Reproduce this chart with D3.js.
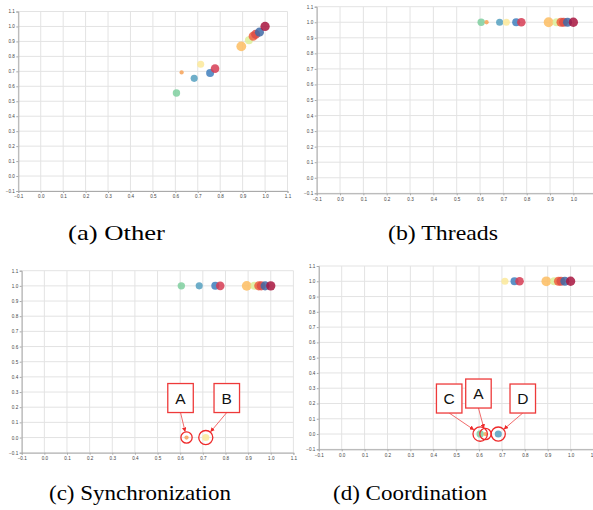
<!DOCTYPE html>
<html>
<head>
<meta charset="utf-8">
<script src="https://cdn.jsdelivr.net/npm/d3@7"></script>
<style>
  html, body { margin: 0; padding: 0; background: #fff; }
  svg { display: block; }
  .tick text { font-family: "Liberation Sans", Arial, sans-serif; }
</style>
</head>
<body>
<div id="fig"></div>
<script>
// similarity score of each item (x) and its value per category panel (y)
const xScore    = [0.605, 0.628, 0.684, 0.713, 0.755, 0.777, 0.894, 0.928, 0.947, 0.958, 0.975, 1.0];
const yOther    = [0.555, 0.693, 0.653, 0.747, 0.689, 0.718, 0.867, 0.907, 0.935, 0.947, 0.962, 1.0];
const yThreads  = [1, 1, 1, 1, 1, 1, 1, 1, 1, 1, 1, 1];
const ySync     = [1, 0, 1, 0, 1, 1, 1, 1, 1, 1, 1, 1];
const yCoord    = [0, 0, 0, 1, 1, 1, 1, 1, 1, 1, 1, 1];
const weights   = [12, 4, 11, 11, 14, 16, 21, 14, 18, 18, 18, 19];

const ticks = d3.range(-0.1, 1.1001, 0.1).map(v => +v.toFixed(1));
const captions = ['(a) Other', '(b) Threads', '(c) Synchronization', '(d) Coordination'];

// annotation callouts: panel, label, item index
const notes = [
  { panel: 2, label: 'A', item: 1 },
  { panel: 2, label: 'B', item: 3 },
  { panel: 3, label: 'C', item: 0 },
  { panel: 3, label: 'A', item: 1 },
  { panel: 3, label: 'D', item: 2 }
];

// styling / layout
const colors = ['#7fcf9f', '#f7a257', '#55a0c0', '#fbe99a', '#3f7fbd', '#d63c53',
                '#fdbd62', '#dcef9a', '#ef6240', '#dc4b45', '#3f6aa6', '#a8153f'];
const panels = [
  { ys: yOther,   left: 18.3,  top: 11.5,  w: 269.2, h: 179.5, cap: [68, 240, 97] },
  { ys: yThreads, left: 316.7, top: 6.7,   w: 280,   h: 186.6, cap: [388, 240, 110] },
  { ys: ySync,    left: 21.7,  top: 270.7, w: 271.7, h: 182,   cap: [49, 500, 182] },
  { ys: yCoord,   left: 318.8, top: 266,   w: 274.7, h: 183.3, cap: [333, 500, 154] }
];
const boxOffsets = [[-6, -39.5], [21, -39.5], [-31, -35.5], [-7, -40.5], [24.5, -35.5]];

const W = 593, H = 510;
const svg = d3.select('#fig').append('svg').attr('width', W).attr('height', H);

svg.append('defs').append('marker')
  .attr('id', 'arrow')
  .attr('viewBox', '0 0 10 10')
  .attr('refX', 9).attr('refY', 5)
  .attr('markerWidth', 5).attr('markerHeight', 5)
  .attr('orient', 'auto')
  .append('path')
  .attr('d', 'M0,0L10,5L0,10z')
  .attr('fill', '#ee2a2a');

const rScale = d3.scaleSqrt().domain([0, 21]).range([0, 4.9]);

const scales = panels.map((p, pi) => {
  const x = d3.scaleLinear().domain([-0.1, 1.1]).range([p.left, p.left + p.w]);
  const y = d3.scaleLinear().domain([-0.1, 1.1]).range([p.top + p.h, p.top]);
  const g = svg.append('g');

  // grid
  g.append('g').selectAll('line').data(ticks).join('line')
    .attr('x1', d => x(d)).attr('x2', d => x(d))
    .attr('y1', y(1.1)).attr('y2', y(-0.1))
    .attr('stroke', '#e3e3e3').attr('stroke-width', 1);
  g.append('g').selectAll('line').data(ticks).join('line')
    .attr('y1', d => y(d)).attr('y2', d => y(d))
    .attr('x1', x(-0.1)).attr('x2', x(1.1))
    .attr('stroke', '#e3e3e3').attr('stroke-width', 1);

  // axes
  const ax = g.append('g')
    .attr('transform', `translate(0,${y(-0.1)})`)
    .call(d3.axisBottom(x).tickValues(ticks).tickFormat(d3.format('.1f')).tickSize(2).tickPadding(2));
  const ay = g.append('g')
    .attr('transform', `translate(${x(-0.1)},0)`)
    .call(d3.axisLeft(y).tickValues(ticks).tickFormat(d3.format('.1f')).tickSize(2).tickPadding(1.5));
  [ax, ay].forEach(a => {
    a.select('.domain').attr('stroke', '#aaa');
    a.selectAll('.tick line').attr('stroke', '#aaa');
    a.selectAll('.tick text').attr('font-size', 4.6).attr('fill', '#444');
  });

  // bubbles
  const items = xScore.map((v, i) => ({ x: v, y: p.ys[i], w: weights[i], c: colors[i] }));
  g.append('g').selectAll('circle').data(items).join('circle')
    .attr('cx', d => x(d.x)).attr('cy', d => y(d.y))
    .attr('r', d => rScale(d.w))
    .attr('fill', d => d.c).attr('fill-opacity', 0.85);

  // caption
  svg.append('text')
    .attr('x', p.cap[0]).attr('y', p.cap[1])
    .attr('font-family', '"Liberation Serif", "Times New Roman", serif')
    .attr('font-size', 22)
    .attr('textLength', p.cap[2])
    .attr('lengthAdjust', 'spacingAndGlyphs')
    .attr('fill', '#000')
    .text(captions[pi]);

  return { x, y };
});

// callouts
notes.forEach((n, i) => {
  const { x, y } = scales[n.panel];
  const px = x(xScore[n.item]), py = y(panels[n.panel].ys[n.item]);
  const rr = rScale(weights[n.item]) + 3.5;
  const bx = px + boxOffsets[i][0], by = py + boxOffsets[i][1];
  const bw = 25.5, bh = 29;
  const g = svg.append('g');
  g.append('circle')
    .attr('cx', px).attr('cy', py).attr('r', rr)
    .attr('fill', 'none').attr('stroke', '#ee2a2a').attr('stroke-width', 1.3);
  const sx = bx, sy = by + bh / 2;
  const dx = px - sx, dy = py - sy, len = Math.hypot(dx, dy);
  g.append('line')
    .attr('x1', sx).attr('y1', sy)
    .attr('x2', px - dx / len * (rr + 0.5)).attr('y2', py - dy / len * (rr + 0.5))
    .attr('stroke', '#ef5a5a').attr('stroke-width', 0.9)
    .attr('marker-end', 'url(#arrow)');
  g.append('rect')
    .attr('x', bx - bw / 2).attr('y', by - bh / 2)
    .attr('width', bw).attr('height', bh)
    .attr('fill', '#fff').attr('stroke', '#ee3a3a').attr('stroke-width', 1.3);
  g.append('text')
    .attr('x', bx).attr('y', by + 5.5)
    .attr('text-anchor', 'middle')
    .attr('font-family', '"Liberation Sans", Arial, sans-serif')
    .attr('font-size', 15.5)
    .attr('fill', '#111')
    .text(n.label);
});
</script>
</body>
</html>
